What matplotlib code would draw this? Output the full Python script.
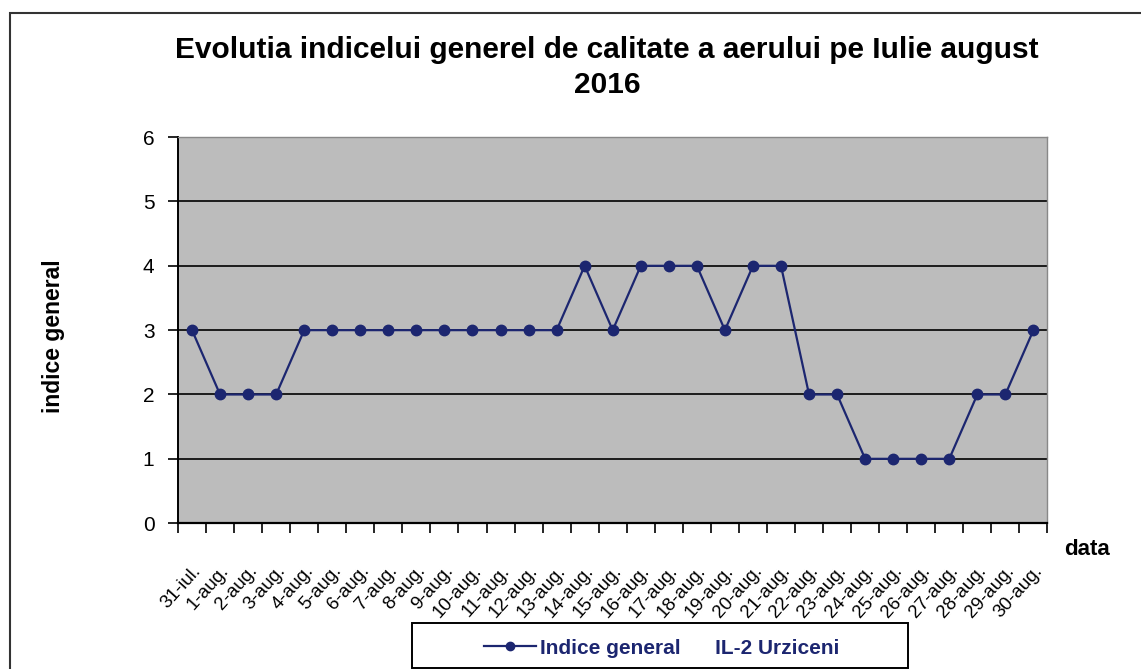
import matplotlib
matplotlib.use("Agg")
import matplotlib.pyplot as plt
from matplotlib.patches import Rectangle
from matplotlib.lines import Line2D

plt.rcParams['font.family'] = ['Liberation Sans', 'DejaVu Sans']

dates = ["31-iul.", "1-aug.", "2-aug.", "3-aug.", "4-aug.", "5-aug.", "6-aug.", "7-aug.",
         "8-aug.", "9-aug.", "10-aug.", "11-aug.", "12-aug.", "13-aug.", "14-aug.", "15-aug.",
         "16-aug.", "17-aug.", "18-aug.", "19-aug.", "20-aug.", "21-aug.", "22-aug.", "23-aug.",
         "24-aug.", "25-aug.", "26-aug.", "27-aug.", "28-aug.", "29-aug.", "30-aug."]
values = [3, 2, 2, 2, 3, 3, 3, 3, 3, 3, 3, 3, 3, 3, 4, 3, 4, 4, 4, 3, 4, 4, 2, 2,
          1, 1, 1, 1, 2, 2, 3]
y_ticks = [0, 1, 2, 3, 4, 5, 6]

title = "Evolutia indicelui generel de calitate a aerului pe Iulie august\n2016"
series_label = "Indice general      IL-2 Urziceni"

navy = "#1c2670"

fig = plt.figure(figsize=(11.41, 6.69), dpi=100)
fig.patch.set_facecolor("white")

# outer chart border
fig.patches.append(Rectangle((0.009, -0.01), 1.2, 0.99, transform=fig.transFigure,
                             fill=False, edgecolor="#333333", linewidth=1.5))

ax = fig.add_axes([0.156, 0.218, 0.762, 0.577])
ax.set_facecolor("#bcbcbc")
x = list(range(len(dates)))
ax.plot(x, values, color=navy, linewidth=1.6, marker="o", markersize=7.5,
        markerfacecolor=navy, markeredgecolor=navy, zorder=3)

ax.set_xlim(-0.5, len(dates) - 0.5)
ax.set_ylim(0, 6)
ax.set_yticks(y_ticks)
ax.set_yticklabels([str(t) for t in y_ticks])
ax.tick_params(axis="y", direction="out", length=7, width=1.2, pad=10, labelsize=15)
ax.yaxis.grid(True, color="black", linewidth=1.2)
ax.set_axisbelow(True)

ax.set_xticks(x)
ax.set_xticklabels(dates, rotation=48, ha="right", rotation_mode="anchor")
ax.tick_params(axis="x", which="major", length=0, pad=28, labelsize=13.5)
ax.set_xticks([i - 0.5 for i in range(len(dates) + 1)], minor=True)
ax.tick_params(axis="x", which="minor", direction="out", length=7, width=1.2)

for s in ["top", "right"]:
    ax.spines[s].set_color("#888888")
    ax.spines[s].set_linewidth(1.0)
ax.spines["left"].set_linewidth(1.4)
ax.spines["bottom"].set_linewidth(1.6)

fig.text(0.532, 0.899, title, ha="center", va="center", fontsize=21.5,
         fontweight="bold", linespacing=1.3)
fig.text(0.047, 0.498, "indice general", rotation=90, ha="center", va="center",
         fontsize=16.5, fontweight="bold")
fig.text(0.953, 0.179, "data", ha="center", va="center", fontsize=16, fontweight="bold")

# legend frame and entry
fig.patches.append(Rectangle((412 / 1141, 1 - 668 / 669), 496 / 1141, 45 / 669,
                             transform=fig.transFigure, fill=True, facecolor="white",
                             edgecolor="black", linewidth=1.4, zorder=2))
handle = Line2D([], [], color=navy, linewidth=1.6, marker="o", markersize=6,
                markerfacecolor=navy, markeredgecolor=navy)
leg = fig.legend([handle], [series_label], loc="center", bbox_to_anchor=(0.580, 0.031),
                 frameon=False, fontsize=15, handlelength=2.5, handletextpad=0.2)
leg.set_zorder(3)
for t in leg.get_texts():
    t.set_color(navy)
    t.set_fontweight("bold")

fig.savefig("out.png", dpi=100)
